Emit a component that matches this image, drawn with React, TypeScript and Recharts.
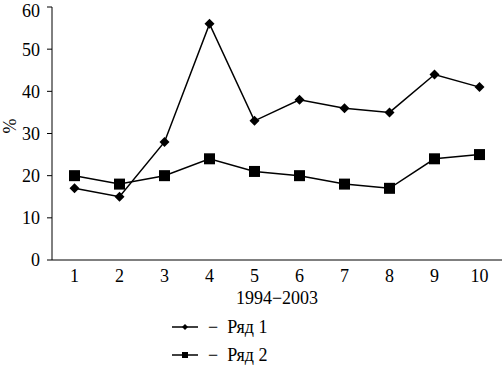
import { LineChart, Line, XAxis, YAxis } from "recharts";

const years = [1, 2, 3, 4, 5, 6, 7, 8, 9, 10];
const row1 = [17, 15, 28, 56, 33, 38, 36, 35, 44, 41];
const row2 = [20, 18, 20, 24, 21, 20, 18, 17, 24, 25];
const yTicks = [0, 10, 20, 30, 40, 50, 60];
const bandEdges = [0.5, 1.5, 2.5, 3.5, 4.5, 5.5, 6.5, 7.5, 8.5, 9.5, 10.5];

const data = years.map((x, i) => ({ x, r1: row1[i], r2: row2[i] }));

const font = "Liberation Serif, Times New Roman, serif";
const fs = 18;

const Diamond = (p: any) => {
  const { cx, cy } = p;
  if (cx == null || cy == null) return <g />;
  const r = 5;
  return <path d={`M${cx},${cy - r}L${cx + r},${cy}L${cx},${cy + r}L${cx - r},${cy}Z`} fill="#000" />;
};

const Square = (p: any) => {
  const { cx, cy } = p;
  if (cx == null || cy == null) return <g />;
  const s = 5.5;
  return <rect x={cx - s} y={cy - s} width={s * 2} height={s * 2} fill="#000" />;
};

function LegendBox() {
  const rows = [
    { name: "Ряд 1", square: false },
    { name: "Ряд 2", square: true },
  ];
  return (
    <div style={{ position: "absolute", left: 172, top: 313, fontFamily: font, fontSize: fs }}>
      {rows.map(r => (
        <div key={r.name} style={{ display: "flex", alignItems: "center", height: 28 }}>
          <svg width={28} height={14}>
            <line x1={0} y1={7} x2={26} y2={7} stroke="#000" strokeWidth={1.5} />
            {r.square
              ? <rect x={10} y={4} width={6} height={6} fill="#000" />
              : <path d="M13,4L16,7L13,10L10,7Z" fill="#000" />}
          </svg>
          <span style={{ marginLeft: 8 }}>−&nbsp;&nbsp;{r.name}</span>
        </div>
      ))}
    </div>
  );
}

export default function App() {
  return (
    <div style={{ position: "absolute", left: 0, top: 0, width: 504, height: 382, background: "#fff" }}>
      <LineChart width={504} height={382} data={data} margin={{ top: 7, right: 2, left: 0, bottom: 72 }}>
        <XAxis
          xAxisId="edges"
          dataKey="x"
          type="number"
          domain={[0.5, 10.5]}
          ticks={bandEdges}
          tick={false}
          tickSize={5}
          height={0}
          axisLine={false}
          stroke="#000"
        />
        <XAxis
          xAxisId="main"
          dataKey="x"
          type="number"
          domain={[0.5, 10.5]}
          ticks={years}
          tickLine={false}
          height={50}
          stroke="#000"
          tick={{ fill: "#000", fontSize: fs, fontFamily: font }}
          tickMargin={3}
          label={{ value: "1994−2003", position: "insideBottom", offset: 6, fill: "#000", fontSize: fs, fontFamily: font }}
        />
        <YAxis
          domain={[0, 60]}
          ticks={yTicks}
          width={52}
          stroke="#000"
          tickSize={5}
          tickMargin={7}
          tick={{ fill: "#000", fontSize: fs, fontFamily: font }}
          label={{ value: "%", angle: -90, position: "insideLeft", offset: 10, fill: "#000", fontSize: fs, fontFamily: font }}
        />
        <Line xAxisId="main" dataKey="r1" name="Ряд 1" stroke="#000" strokeWidth={1.5} dot={<Diamond />} activeDot={false} isAnimationActive={false} />
        <Line xAxisId="main" dataKey="r2" name="Ряд 2" stroke="#000" strokeWidth={1.5} dot={<Square />} activeDot={false} isAnimationActive={false} />
      </LineChart>
      <LegendBox />
    </div>
  );
}
